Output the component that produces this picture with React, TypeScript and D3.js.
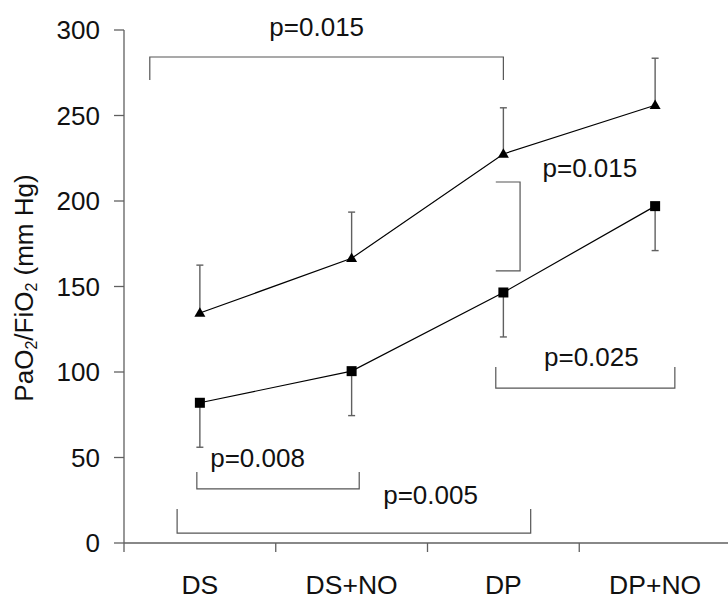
import React from "react";
import * as d3 from "d3";

const categories = ["DS", "DS+NO", "DP", "DP+NO"];
// Lower series (squares) with SD drawn downward
const squareMeans = [82, 100.5, 146.5, 197];
const squareSD = [26, 26, 26, 26];
// Upper series (triangles) with SD drawn upward
const triangleMeans = [134.5, 166.5, 227.5, 256];
const triangleSD = [28, 27, 27, 27.5];
const yTicks = [0, 50, 100, 150, 200, 250, 300];

// Significance brackets: x in category-index units, y in data units
type Bracket = {
  label: string;
  kind: "down" | "up" | "side";
  x0: number;
  x1: number;
  y0: number;
  y1: number;
  tx: number;
  ty: number;
};
const brackets: Bracket[] = [
  { label: "p=0.015", kind: "down", x0: -0.33, x1: 2.0, y0: 284.2, y1: 270.8, tx: 0.77, ty: 296.5 },
  { label: "p=0.015", kind: "side", x0: 1.95, x1: 2.11, y0: 211.1, y1: 159.1, tx: 2.57, ty: 214 },
  { label: "p=0.025", kind: "up", x0: 1.95, x1: 3.13, y0: 90.6, y1: 102.9, tx: 2.58, ty: 103.3 },
  { label: "p=0.008", kind: "up", x0: -0.02, x1: 1.05, y0: 31.6, y1: 41.5, tx: 0.38, ty: 44.4 },
  { label: "p=0.005", kind: "up", x0: -0.15, x1: 2.18, y0: 5.8, y1: 19.9, tx: 1.52, ty: 22.8 },
];

const W = 728;
const H = 599;
const FONT = "Liberation Sans, Arial, sans-serif";

export default function App() {
  const x = d3.scaleBand<string>().domain(categories).range([124, 731]).padding(0);
  const xc = (c: string) => (x(c) as number) + x.bandwidth() / 2;
  const xi = d3
    .scaleLinear()
    .domain([0, categories.length - 1])
    .range([xc(categories[0]), xc(categories[categories.length - 1])]);
  const y = d3.scaleLinear().domain([0, 300]).range([543, 30]);

  const line = d3
    .line<number>()
    .x((_, i) => xc(categories[i]))
    .y((d) => y(d));

  const axisColor = "#606060";
  const errColor = "#606060";
  const bracketColor = "#555";
  const cap = 3.5;

  const tri = (cx: number, cy: number) => {
    const s = 11;
    const h = 9.5;
    return `M${cx},${cy - h * 0.6}L${cx + s / 2},${cy + h * 0.4}L${cx - s / 2},${cy + h * 0.4}Z`;
  };

  return (
    <svg width={W} height={H} style={{ display: "block", position: "absolute", left: 0, top: 0 }}>
      <rect width={W} height={H} fill="#fff" />
      {/* y axis */}
      <line x1={124} x2={124} y1={y(300)} y2={y(0)} stroke={axisColor} strokeWidth={1.3} />
      {yTicks.map((t) => (
        <g key={t}>
          <line x1={114} x2={124} y1={y(t)} y2={y(t)} stroke={axisColor} strokeWidth={1.3} />
          <text
            x={100}
            y={y(t)}
            textAnchor="end"
            dominantBaseline="central"
            fontFamily={FONT}
            fontSize={26}
            fill="#111"
          >
            {t}
          </text>
        </g>
      ))}
      {/* x axis */}
      <line x1={124} x2={W} y1={y(0)} y2={y(0)} stroke={axisColor} strokeWidth={1.3} />
      {categories.map((c) => (
        <g key={c}>
          <line
            x1={x(c) as number}
            x2={x(c) as number}
            y1={y(0)}
            y2={y(0) + 9}
            stroke={axisColor}
            strokeWidth={1.3}
          />
          <text x={xc(c)} y={594} textAnchor="middle" fontFamily={FONT} fontSize={26.5} fill="#111">
            {c}
          </text>
        </g>
      ))}
      {/* y axis title */}
      <text
        transform={`translate(33,288) rotate(-90)`}
        textAnchor="middle"
        fontFamily={FONT}
        fontSize={26}
        fill="#111"
      >
        PaO<tspan fontSize={16} dy={4}>2</tspan>
        <tspan dy={-4}>/FiO</tspan>
        <tspan fontSize={16} dy={4}>2</tspan>
        <tspan dy={-4}> (mm Hg)</tspan>
      </text>

      {/* error bars */}
      {squareMeans.map((m, i) => {
        const cx = xc(categories[i]);
        return (
          <g key={"se" + i}>
            <line x1={cx} x2={cx} y1={y(m)} y2={y(m - squareSD[i])} stroke={errColor} strokeWidth={1.4} />
            <line
              x1={cx - cap}
              x2={cx + cap}
              y1={y(m - squareSD[i])}
              y2={y(m - squareSD[i])}
              stroke={errColor}
              strokeWidth={1.4}
            />
          </g>
        );
      })}
      {triangleMeans.map((m, i) => {
        const cx = xc(categories[i]);
        return (
          <g key={"te" + i}>
            <line x1={cx} x2={cx} y1={y(m)} y2={y(m + triangleSD[i])} stroke={errColor} strokeWidth={1.4} />
            <line
              x1={cx - cap}
              x2={cx + cap}
              y1={y(m + triangleSD[i])}
              y2={y(m + triangleSD[i])}
              stroke={errColor}
              strokeWidth={1.4}
            />
          </g>
        );
      })}

      {/* series lines */}
      <path d={line(squareMeans) || ""} fill="none" stroke="#000" strokeWidth={1.2} />
      <path d={line(triangleMeans) || ""} fill="none" stroke="#000" strokeWidth={1.2} />

      {/* markers */}
      {squareMeans.map((m, i) => (
        <rect
          key={"sq" + i}
          x={xc(categories[i]) - 5}
          y={y(m) - 5}
          width={10}
          height={10}
          fill="#000"
        />
      ))}
      {triangleMeans.map((m, i) => (
        <path key={"tr" + i} d={tri(xc(categories[i]), y(m))} fill="#000" />
      ))}

      {/* significance brackets */}
      {brackets.map((b, i) => {
        let d = "";
        if (b.kind === "side") {
          d = `M${xi(b.x0)},${y(b.y0)}H${xi(b.x1)}V${y(b.y1)}H${xi(b.x0)}`;
        } else {
          d = `M${xi(b.x0)},${y(b.y1)}V${y(b.y0)}H${xi(b.x1)}V${y(b.y1)}`;
        }
        return (
          <g key={"br" + i}>
            <path d={d} fill="none" stroke={bracketColor} strokeWidth={1.2} />
            <text
              x={xi(b.tx)}
              y={y(b.ty)}
              textAnchor="middle"
              fontFamily={FONT}
              fontSize={26}
              fill="#111"
            >
              {b.label}
            </text>
          </g>
        );
      })}
    </svg>
  );
}
